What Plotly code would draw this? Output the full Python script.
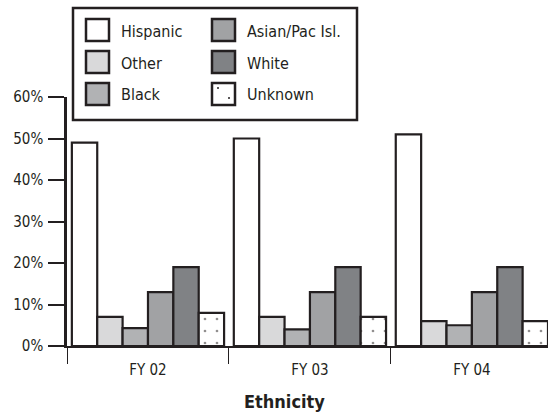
import plotly.graph_objects as go

# Share of cases by ethnicity, per fiscal year
years = ["FY 02", "FY 03", "FY 04"]
groups = ["Hispanic", "Other", "Black", "Asian/Pac Isl.", "White", "Unknown"]
hispanic = [49, 50, 51]
other = [7, 7, 6]
black = [4.3, 4, 5]
asian_pac = [13, 13, 13]
white = [19, 19, 19]
unknown = [8, 7, 6]
y_ticks = [0, 10, 20, 30, 40, 50, 60]
y_tick_labels = [f"{v}%" for v in y_ticks]

series = [hispanic, other, black, asian_pac, white, unknown]
fills = ["#ffffff", "#d9d9da", "#b1b2b4", "#a1a2a4", "#808285", "#ffffff"]
INK = "#231f20"
FONT = "DejaVu Sans Condensed, Liberation Sans Narrow, Arial Narrow, sans-serif"

fig = go.Figure()
for name, vals, fill in zip(groups, series, fills):
    marker = dict(color=fill, line=dict(color=INK, width=2.2))
    if name == "Unknown":
        marker["pattern"] = dict(shape=".", size=12, solidity=0.04,
                                 fgcolor=INK, bgcolor="#ffffff")
    fig.add_trace(go.Bar(name=name, x=years, y=vals, marker=marker,
                         showlegend=False))

# Figure size and plot-area margins (pixels)
W, H = 548, 415
ML, MR, MT, MB = 67, 0, 97, 69
PW, PH = W - ML - MR, H - MT - MB

# helpers: figure pixel -> paper coordinate (paper spans the plot area)
def px(x): return (x - ML) / PW
def py(y): return (H - MB - y) / PH

# Two-column key with large swatches inside a boxed frame
shapes = [dict(type="rect", xref="paper", yref="paper",
               x0=px(73), x1=px(357), y0=py(8), y1=py(120),
               line=dict(color=INK, width=2.5), fillcolor="#ffffff",
               layer="above")]
annotations = []
rows_y = [30, 62, 94]
cols = [(86, 119), (212, 245)]
order = [[0, 1, 2], [3, 4, 5]]
for ci, (sx, tx) in enumerate(cols):
    for ri, gi in enumerate(order[ci]):
        cy = rows_y[ri]
        shapes.append(dict(type="rect", xref="paper", yref="paper",
                           x0=px(sx), x1=px(sx + 23), y0=py(cy - 11), y1=py(cy + 11),
                           line=dict(color=INK, width=2.5), fillcolor=fills[gi],
                           layer="above"))
        if groups[gi] == "Unknown":
            for dx, dy in [(6, -6), (17, 4)]:
                shapes.append(dict(type="circle", xref="paper", yref="paper",
                                   x0=px(sx + dx - 1), x1=px(sx + dx + 1),
                                   y0=py(cy + dy - 1), y1=py(cy + dy + 1),
                                   line=dict(width=0), fillcolor=INK, layer="above"))
        annotations.append(dict(text=groups[gi], xref="paper", yref="paper",
                                x=px(tx), y=py(cy + 1), xanchor="left", yanchor="middle",
                                showarrow=False, font=dict(family=FONT, size=16, color=INK)))

annotations.append(dict(text="<b>Ethnicity</b>", xref="paper", yref="paper",
                        x=px(284), y=py(401), xanchor="center", yanchor="middle",
                        showarrow=False, font=dict(family=FONT, size=18, color=INK)))

fig.update_layout(
    width=W, height=H,
    margin=dict(l=ML, r=MR, t=MT, b=MB),
    paper_bgcolor="#ffffff", plot_bgcolor="#ffffff",
    barmode="group", bargap=0.06, bargroupgap=0,
    font=dict(family=FONT, size=15, color=INK),
    shapes=shapes, annotations=annotations,
    xaxis=dict(type="category", range=[-0.5, 2.47], tickson="boundaries",
               ticks="outside", ticklen=16, tickwidth=1.2, tickcolor=INK,
               showline=True, linecolor=INK, linewidth=2, showgrid=False,
               tickfont=dict(size=15), zeroline=False, ticklabelstandoff=9),
    yaxis=dict(range=[0, 60], tickvals=y_ticks, ticktext=y_tick_labels,
               ticks="outside", ticklen=16, tickwidth=2, tickcolor=INK,
               showline=True, linecolor=INK, linewidth=2.5, showgrid=False,
               zeroline=False, tickfont=dict(size=15), ticklabelstandoff=2),
)

fig.write_html("out.html")
